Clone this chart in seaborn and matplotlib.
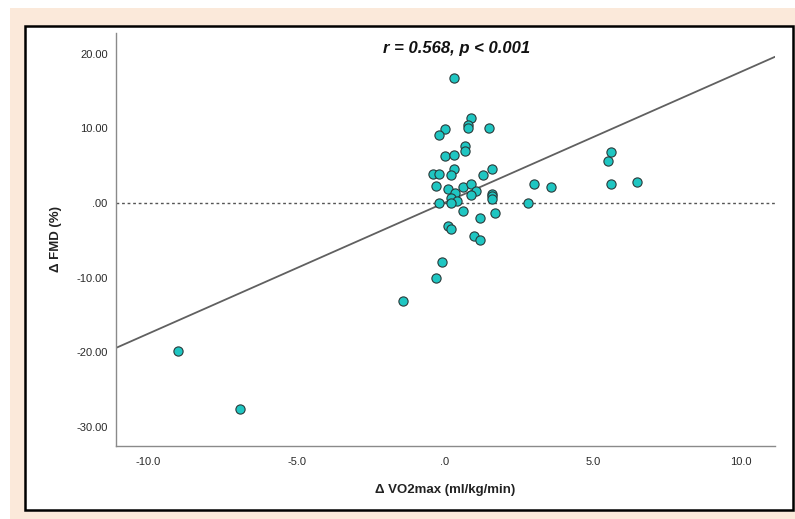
import numpy as np
import pandas as pd
import matplotlib
matplotlib.use("Agg")
import matplotlib.pyplot as plt
import matplotlib.ticker as mticker
from matplotlib.patches import Rectangle
import seaborn as sns

# change in VO2max (ml/kg/min) vs change in FMD (%)
d_vo2max = [-9.0, -6.9, -1.4, -0.3, -0.1, 0.3, 0.9, 0.8, 0.8, 1.5,
            0.0, -0.2, 0.7, 0.7, 0.0, 0.3, 0.3, 1.6, -0.4, -0.2,
            0.2, 1.3, -0.3, 0.1, 0.6, 0.9, 1.05, 0.9, 0.35, 0.2,
            0.4, -0.2, 0.2, 1.6, 1.6, 1.6, 0.6, 1.2, 1.7, 0.1,
            0.2, 1.0, 1.2, 3.0, 3.6, 2.8, 5.5, 5.6, 5.6, 6.5]
d_fmd = [-19.8, -27.6, -13.1, -10.1, -7.9, 16.8, 11.45, 10.4, 10.1, 10.1,
         9.9, 9.15, 7.65, 7.0, 6.3, 6.45, 4.55, 4.5, 3.9, 3.85,
         3.7, 3.8, 2.3, 1.9, 2.1, 2.6, 1.6, 1.1, 1.3, 0.65,
         0.27, 0.05, -0.05, 1.15, 0.9, 0.5, -1.1, -1.95, -1.4, -3.05,
         -3.55, -4.4, -5.0, 2.5, 2.2, 0.05, 5.65, 6.8, 2.5, 2.8]

y_ticks = [-30, -20, -10, 0, 10, 20]
x_ticks = [-10, -5, 0, 5, 10]
stat_text = "r = 0.568, p < 0.001"

df = pd.DataFrame({"vo2": d_vo2max, "fmd": d_fmd})

sns.set_style("white")
plt.rcParams["font.family"] = ["Liberation Sans", "DejaVu Sans"]

W, H = 795, 519
fig = plt.figure(figsize=(W / 100, H / 100), dpi=100)
fig.patch.set_facecolor("white")

# peach background and black frame, like the source figure
fig.patches.append(Rectangle((10 / W, 0), 1 - 10 / W, (H - 8) / H,
                             transform=fig.transFigure, facecolor="#fbe9da",
                             edgecolor="none", zorder=-10))
fig.patches.append(Rectangle((25 / W, (H - 510) / H), (793 - 25) / W, (510 - 26) / H,
                             transform=fig.transFigure, facecolor="white",
                             edgecolor="black", linewidth=1.8, zorder=-9))

ax = fig.add_axes([116 / W, (H - 446) / H, (775 - 116) / W, (446 - 33) / H])
ax.set_facecolor("none")
ax.set_xlim(-11.1, 11.15)
ax.set_ylim(-32.6, 22.8)

ax.axhline(0, color="#555555", linestyle=(0, (2, 2)), linewidth=1.0, zorder=1)

sns.regplot(data=df, x="vo2", y="fmd", ax=ax, ci=None, truncate=False,
            scatter_kws=dict(s=44, color="#1fc6c2", edgecolor="#2a3a3a",
                             linewidths=0.8, alpha=1, zorder=3),
            line_kws=dict(color="#606060", linewidth=1.3, zorder=2))

ax.set_xticks(x_ticks)
ax.set_yticks(y_ticks)
ax.xaxis.set_major_formatter(mticker.FuncFormatter(
    lambda v, p: ".0" if v == 0 else f"{v:.1f}"))
ax.yaxis.set_major_formatter(mticker.FuncFormatter(
    lambda v, p: ".00" if v == 0 else f"{v:.2f}"))
ax.tick_params(axis="both", length=0, labelsize=8, colors="#2a2a2a")
ax.tick_params(axis="x", pad=8)
ax.tick_params(axis="y", pad=6)

for s in ["top", "right"]:
    ax.spines[s].set_visible(False)
for s in ["left", "bottom"]:
    ax.spines[s].set_color("#8a8a8a")
    ax.spines[s].set_linewidth(1.0)

ax.set_xlabel("\u0394 VO2max (ml/kg/min)", fontsize=9.5, fontweight="bold",
              color="#222222", labelpad=12)
ax.set_ylabel("\u0394 FMD (%)", fontsize=9.5, fontweight="bold",
              color="#222222", labelpad=10)

ax.text(0.517, 0.962, stat_text, transform=ax.transAxes, ha="center", va="center",
        fontsize=12, fontweight="bold", fontstyle="italic", color="#111111")

fig.savefig("out.png", dpi=100)
